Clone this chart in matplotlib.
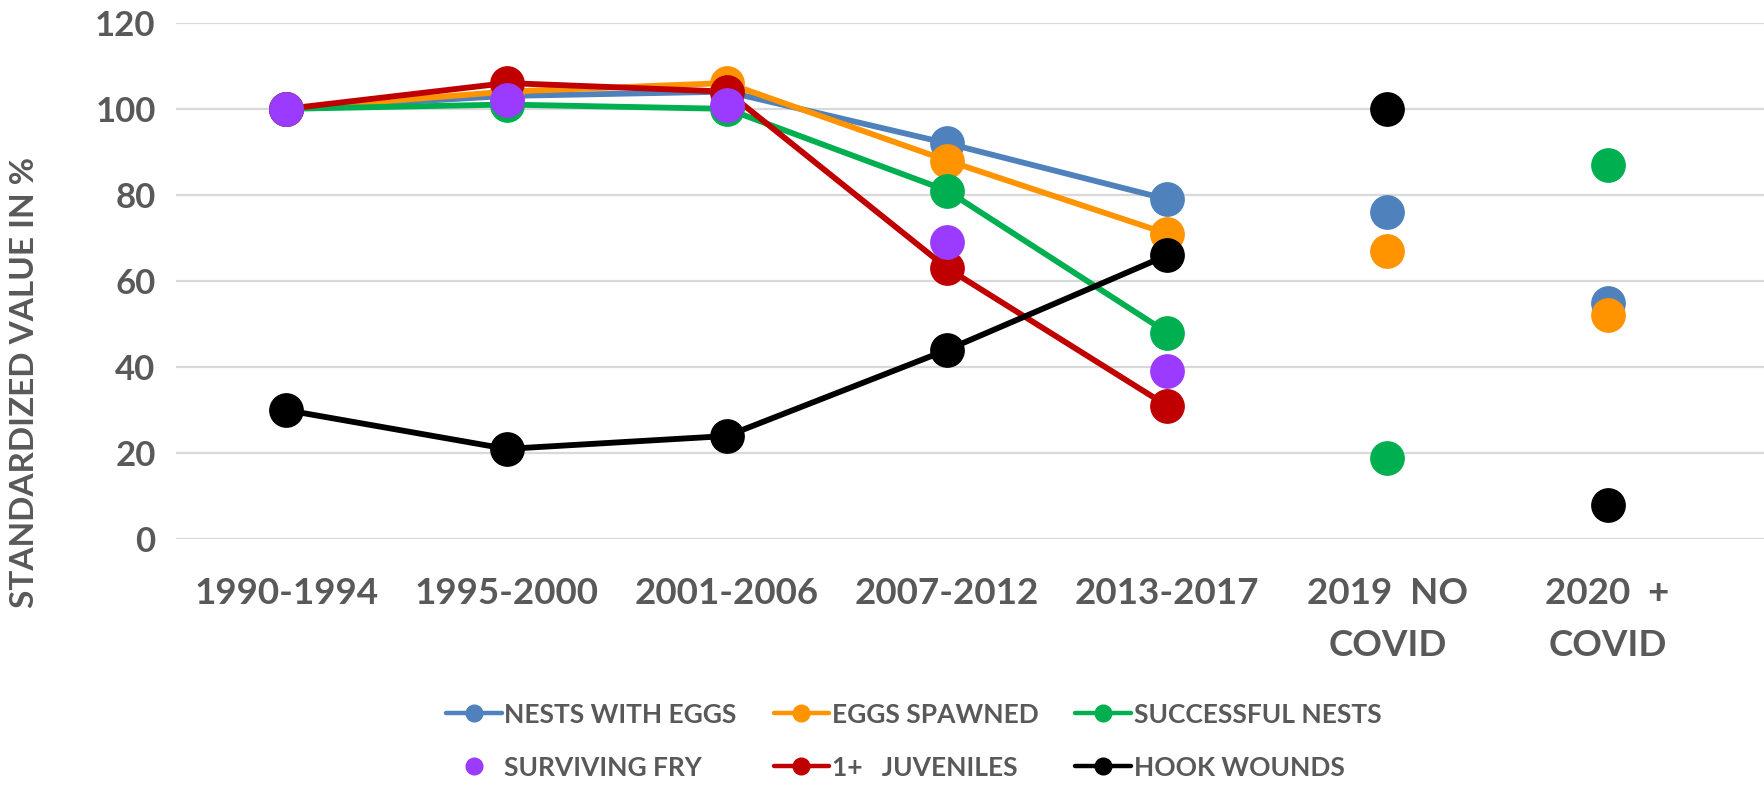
import numpy as np
import matplotlib.pyplot as plt
from matplotlib.lines import Line2D

# ------------------ data ------------------
periods = ["1990-1994", "1995-2000", "2001-2006", "2007-2012", "2013-2017",
           "2019  NO\nCOVID", "2020  +\nCOVID"]
nests_with_eggs = [100, 103, 104, 92, 79, 76, 55]
eggs_spawned = [100, 104, 106, 88, 71, 67, 52]
successful_nests = [100, 101, 100, 81, 48, 19, 87]
surviving_fry = [100, 102, 101, 69, 39, np.nan, np.nan]
juveniles = [100, 106, 104, 63, 31, np.nan, np.nan]
hook_wounds = [30, 21, 24, 44, 66, 100, 8]
yticks = [0, 20, 40, 60, 80, 100, 120]
# ------------------------------------------

TXT = "#595959"
FONT = "Lato"
N_LINKED = 5  # the five multi-year periods are joined by lines

series = [
    ("NESTS WITH EGGS", nests_with_eggs, "#4F81BD", True),
    ("EGGS SPAWNED", eggs_spawned, "#FF9300", True),
    ("SUCCESSFUL NESTS", successful_nests, "#00B050", True),
    ("1+   JUVENILES", juveniles, "#C00000", True),
    ("SURVIVING FRY", surviving_fry, "#9A3BFF", False),
    ("HOOK WOUNDS", hook_wounds, "#000000", True),
]

fig = plt.figure(figsize=(17.64, 7.85), dpi=100)
ax = fig.add_axes([0.1, 0.313, 0.9, 0.658])

x = np.arange(len(periods))
handles = {}
for name, vals, col, joined in series:
    vals = np.array(vals, dtype=float)
    if joined:
        ax.plot(x[:N_LINKED], vals[:N_LINKED], color=col, lw=4.2,
                solid_capstyle="round", zorder=2)
    ax.plot(x, vals, ls="none", marker="o", ms=24, color=col, mec=col, zorder=3)
    handles[name] = Line2D([], [], color=col, lw=3.2 if joined else 0,
                           marker="o", ms=12, mec=col, solid_capstyle="round")

ax.set_xlim(-0.5, 6.71)
ax.set_ylim(0, 120)
ax.set_yticks(yticks)
ax.set_xticks(x)
ax.set_xticklabels(periods)
ax.grid(axis="y", color="#D9D9D9", lw=1.6)
ax.set_axisbelow(True)
for s in ax.spines.values():
    s.set_visible(False)
ax.tick_params(length=0)
ax.tick_params(axis="y", pad=15)
ax.tick_params(axis="x", pad=27)
for lab in ax.get_yticklabels():
    lab.set(fontfamily=FONT, fontweight="bold", fontsize=25, color=TXT)
for lab in ax.get_xticklabels():
    lab.set(fontfamily=FONT, fontweight="bold", fontsize=26.5, color=TXT,
            va="top", linespacing=1.7)

fig.text(0.014, 0.513, "STANDARDIZED VALUE IN %", rotation=90, ha="center",
         va="center", fontfamily=FONT, fontweight="bold", fontsize=24, color=TXT)

# legend filled row by row: matplotlib fills columns, so interleave
order = ["NESTS WITH EGGS", "SURVIVING FRY", "EGGS SPAWNED", "1+   JUVENILES",
         "SUCCESSFUL NESTS", "HOOK WOUNDS"]
leg = fig.legend([handles[k] for k in order], order, loc="center",
                 bbox_to_anchor=(0.518, 0.056), ncol=3, frameon=False,
                 handlelength=2.1, handletextpad=0.1, columnspacing=1.4,
                 labelspacing=1.1,
                 prop={"family": FONT, "weight": "bold", "size": 19})
for t in leg.get_texts():
    t.set_color(TXT)

fig.savefig("out.png", dpi=100)
